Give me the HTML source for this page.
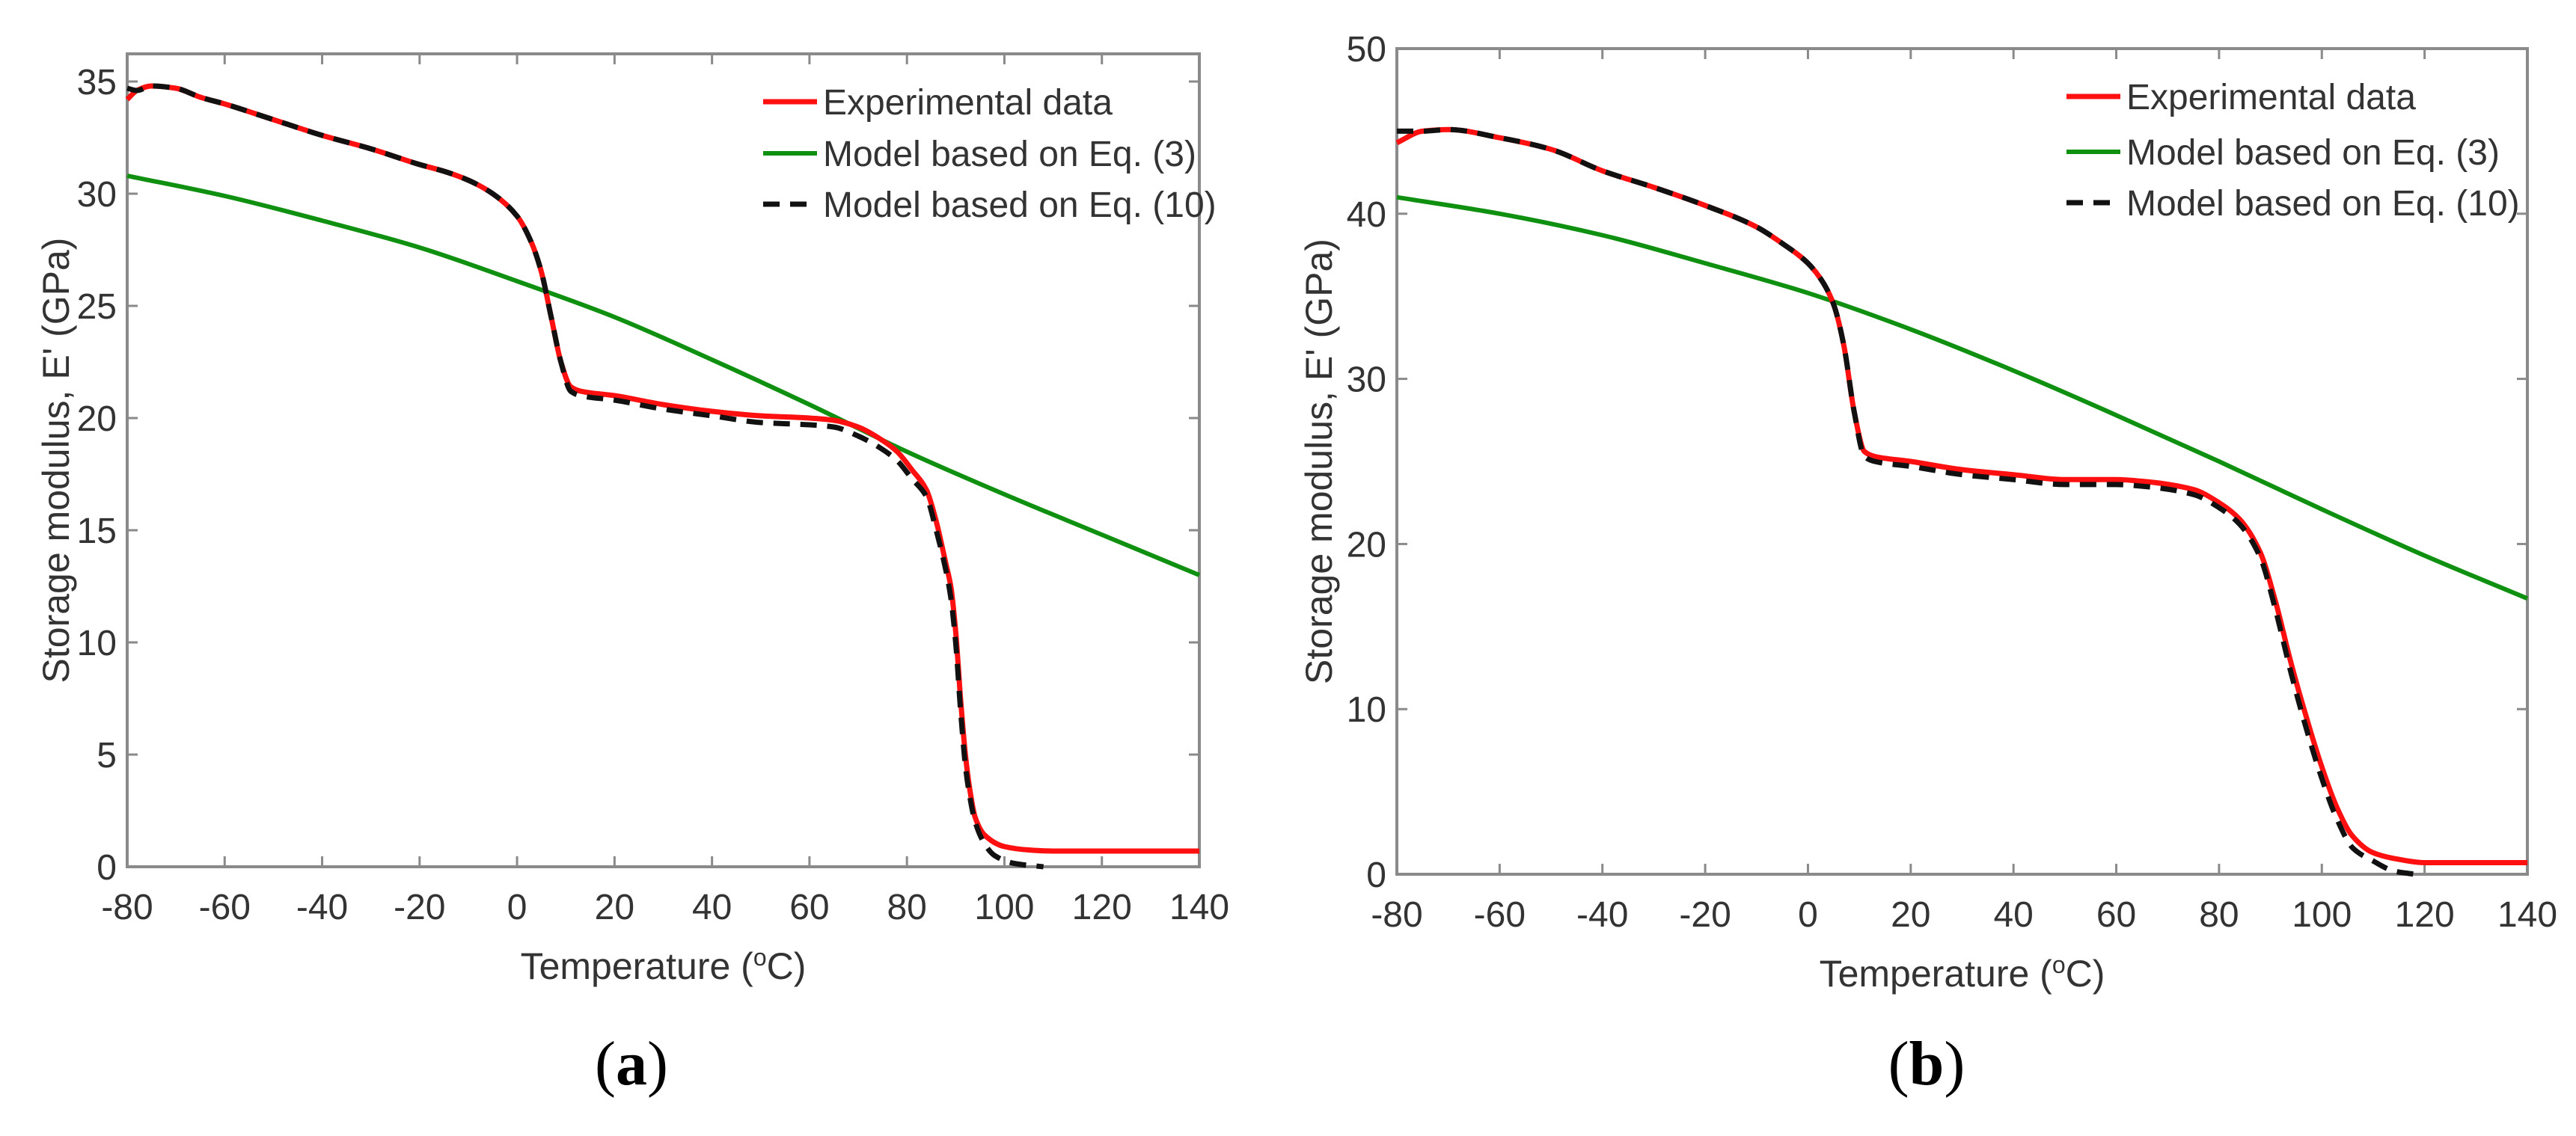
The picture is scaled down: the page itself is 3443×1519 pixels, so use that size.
<!DOCTYPE html>
<html><head><meta charset="utf-8"><style>
html,body{margin:0;padding:0;background:#fff}
svg{display:block}
text{font-family:"Liberation Sans",sans-serif;fill:#333}
</style></head><body>
<svg id="fig" width="3443" height="1519" viewBox="0 0 3443 1519"></svg>
<script>
const xTicks=[-80,-60,-40,-20,0,20,40,60,80,100,120,140];
const yTicksA=[0,5,10,15,20,25,30,35];
const yTicksB=[0,10,20,30,40,50];
const legendLabels=["Experimental data","Model based on Eq. (3)","Model based on Eq. (10)"];
const expA_T=[-80,-78,-75,-70,-65,-60,-50,-40,-30,-20,-15,-10,-5,0,3,5,7,9,11,13,20,30,40,50,60,65,70,75,78,81,84,86,88,89,90,91,92,93,94,96,100,105,110,140];
const expA_E=[34.2,34.6,34.8,34.7,34.3,34.0,33.3,32.6,32.0,31.3,31.0,30.6,30.0,29.0,27.8,26.5,24.5,22.5,21.4,21.2,21.0,20.6,20.3,20.1,20.0,19.9,19.6,19.0,18.5,17.7,16.8,15.4,13.5,12.5,10.5,7.5,5.0,3.3,2.2,1.4,0.9,0.75,0.7,0.7];
const modA_T=[-80,-78,-75,-70,-65,-60,-50,-40,-30,-20,-15,-10,-5,0,3,5,7,9,11,13,20,30,40,50,60,65,70,75,78,81,84,86,88,89,90,91,92,93,94,96,98,102,108];
const modA_E=[34.7,34.6,34.8,34.7,34.3,34.0,33.3,32.6,32.0,31.3,31.0,30.6,30.0,29.0,27.8,26.5,24.5,22.5,21.2,21.0,20.8,20.4,20.1,19.8,19.7,19.6,19.2,18.6,18.1,17.3,16.5,15.0,13.2,12.0,10.0,7.0,4.5,3.0,2.0,1.0,0.5,0.15,0];
const eq3A_T=[-80,-60,-40,-20,0,20,40,60,80,100,120,140];
const eq3A_E=[30.8,29.9,28.8,27.6,26.1,24.5,22.6,20.6,18.5,16.6,14.8,13.0];
const expB_T=[-80,-75,-70,-60,-50,-40,-30,-20,-10,-5,0,3,5,7,9,11,13,20,30,40,50,60,65,75,80,84,88,91,94,97,100,103,106,110,115,120,140];
const expB_E=[44.3,45.0,45.1,44.6,43.9,42.6,41.6,40.5,39.2,38.2,37.0,35.8,34.5,32.0,28.0,25.6,25.3,25.0,24.5,24.2,23.9,23.9,23.8,23.3,22.5,21.5,19.5,16.5,12.8,9.5,6.5,4.0,2.3,1.3,0.9,0.7,0.7];
const modB_T=[-80,-75,-70,-60,-50,-40,-30,-20,-10,-5,0,3,5,7,9,11,13,20,30,40,50,60,65,75,80,84,88,91,94,97,100,103,106,110,114,118];
const modB_E=[45.0,45.0,45.1,44.6,43.9,42.6,41.6,40.5,39.2,38.2,37.0,35.8,34.5,32.0,28.0,25.3,25.0,24.7,24.2,23.9,23.6,23.6,23.5,23.0,22.2,21.2,19.2,16.0,12.2,8.8,5.8,3.3,1.6,0.8,0.2,0];
const eq3B_T=[-80,-60,-40,-20,0,20,40,60,80,100,120,140];
const eq3B_E=[41.0,40.0,38.7,37.0,35.2,33.0,30.5,27.8,25.0,22.1,19.3,16.7];

const NS="http://www.w3.org/2000/svg";
const svg=document.getElementById('fig');
function mk(tag,attrs,parent){const e=document.createElementNS(NS,tag);for(const k in attrs)e.setAttribute(k,attrs[k]);(parent||svg).appendChild(e);return e;}

// monotone cubic path through pixel points
function monoPath(P){
  const n=P.length;if(n<2)return '';
  const d=[],m=[];
  for(let i=0;i<n-1;i++)d.push((P[i+1][1]-P[i][1])/(P[i+1][0]-P[i][0]));
  m[0]=d[0];m[n-1]=d[n-2];
  for(let i=1;i<n-1;i++){
    if(d[i-1]*d[i]<=0)m[i]=0;
    else{const w1=2*(P[i+1][0]-P[i][0])+(P[i][0]-P[i-1][0]),w2=(P[i+1][0]-P[i][0])+2*(P[i][0]-P[i-1][0]);m[i]=(w1+w2)/(w1/d[i-1]+w2/d[i]);}
  }
  let s='M'+P[0][0].toFixed(1)+','+P[0][1].toFixed(1);
  for(let i=0;i<n-1;i++){
    const h=P[i+1][0]-P[i][0];
    s+=' C'+(P[i][0]+h/3).toFixed(1)+','+(P[i][1]+m[i]*h/3).toFixed(1)+' '+(P[i+1][0]-h/3).toFixed(1)+','+(P[i+1][1]-m[i+1]*h/3).toFixed(1)+' '+P[i+1][0].toFixed(1)+','+P[i+1][1].toFixed(1);
  }
  return s;
}

function panel(cfg){
  const g=mk('g',{});
  
  
  const sx=t=>cfg.x0+(t-(-80))/(220)*(cfg.x1-cfg.x0);
  const sy=v=>cfg.y0-v*cfg.ppu;
  const box=mk('rect',{x:cfg.x0,y:cfg.yTop,width:cfg.x1-cfg.x0,height:cfg.y0-cfg.yTop,fill:'none',stroke:'#8a8a8a','stroke-width':4},g);
  
  
  xTicks.forEach(t=>{
    const x=sx(t);
    mk('line',{x1:x,y1:cfg.y0,x2:x,y2:cfg.y0-14,stroke:'#8a8a8a','stroke-width':3},g);
    mk('line',{x1:x,y1:cfg.yTop,x2:x,y2:cfg.yTop+14,stroke:'#8a8a8a','stroke-width':3},g);
    const tx=mk('text',{x:x,y:cfg.y0+70,'font-size':48,'text-anchor':'middle'},g);
    tx.textContent=t;
    
    
  });
  cfg.yTicks.forEach(v=>{
    const y=sy(v);
    mk('line',{x1:cfg.x0,y1:y,x2:cfg.x0+14,y2:y,stroke:'#8a8a8a','stroke-width':3},g);
    mk('line',{x1:cfg.x1,y1:y,x2:cfg.x1-14,y2:y,stroke:'#8a8a8a','stroke-width':3},g);
    const tx=mk('text',{x:cfg.x0-14,y:y+17,'font-size':48,'text-anchor':'end'},g);
    tx.textContent=v;
    
    
  });
  const pts=(T,E)=>monoPath(T.map((t,i)=>[sx(t),sy(E[i])]));
  const green=mk('path',{d:pts(cfg.eqT,cfg.eqE),fill:'none',stroke:'#109010','stroke-width':6,'stroke-linejoin':'round'},g);
  
  
  const red=mk('path',{d:pts(cfg.expT,cfg.expE),fill:'none',stroke:'#ff1010','stroke-width':7,'stroke-linejoin':'round'},g);
  
  
  const blk=mk('path',{d:pts(cfg.modT,cfg.modE),fill:'none',stroke:'#111','stroke-width':7,'stroke-dasharray':'22 14','stroke-linejoin':'round'},g);
  
  
  const colors=['#ff1010','#109010','#111'];
  legendLabels.forEach((lab,i)=>{
    const y=cfg.legY[i];
    const ln=mk('line',{x1:cfg.legX,y1:y,x2:cfg.legX+72,y2:y,stroke:colors[i],'stroke-width':i==1?6:7},g);
    if(i==2)ln.setAttribute('stroke-dasharray','22 14');
    
    
    const tx=mk('text',{x:cfg.legX+80,y:y+17,'font-size':48},g);
    tx.textContent=lab;
    
    
  });
  const xt=mk('text',{x:(cfg.x0+cfg.x1)/2,y:cfg.y0+150,'font-size':50,'text-anchor':'middle'},g);
  xt.innerHTML='Temperature (<tspan dy="-18" font-size="32">o</tspan><tspan dy="18">C)</tspan>';
  
  
  const cy=(cfg.yTop+cfg.y0)/2;
  const yt=mk('text',{x:cfg.ytX,y:cy,'font-size':50,'text-anchor':'middle',transform:`rotate(-90 ${cfg.ytX} ${cy})`},g);
  yt.textContent="Storage modulus, E' (GPa)";
  
  
  const cap=mk('text',{x:cfg.capX,y:1450,'font-size':84,'text-anchor':'middle'},g);
  cap.setAttribute('style','font-family:"Liberation Serif",serif;fill:#000');
  cap.innerHTML='(<tspan font-weight="bold">'+cfg.cap+'</tspan>)';
  
  
}
panel({name:'panel-a',x0:170,x1:1603,y0:1159,yTop:72,ppu:30,yTicks:yTicksA,expT:expA_T,expE:expA_E,modT:modA_T,modE:modA_E,eqT:eq3A_T,eqE:eq3A_E,legX:1020,legY:[136,205,273],ytX:92,capX:844,cap:'a'});
panel({name:'panel-b',x0:1867,x1:3378,y0:1169,yTop:65,ppu:22.08,yTicks:yTicksB,expT:expB_T,expE:expB_E,modT:modB_T,modE:modB_E,eqT:eq3B_T,eqE:eq3B_E,legX:2762,legY:[129,203,271],ytX:1780,capX:2575,cap:'b'});
</script>
</body></html>
